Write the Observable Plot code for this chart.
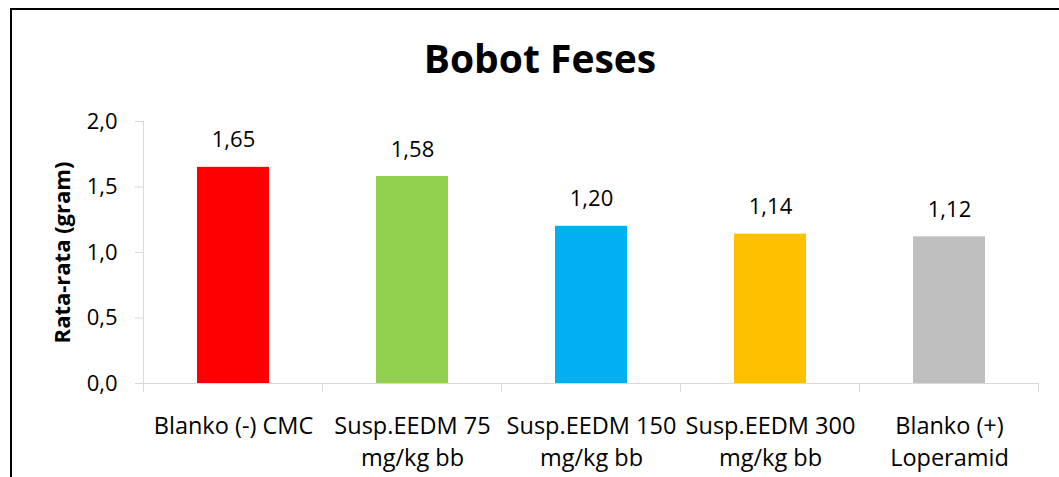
<!DOCTYPE html>
<html><head><meta charset="utf-8">
<script src="https://cdn.jsdelivr.net/npm/d3@7"></script>
<script src="https://cdn.jsdelivr.net/npm/@observablehq/plot@0.6"></script>
<style>
html,body{margin:0;padding:0;background:#fff;}
#wrap{position:relative;width:1059px;height:477px;overflow:hidden;font-family:"Open Sans",sans-serif;background:#fff;}
#frame{position:absolute;left:10px;top:8px;width:1200px;height:600px;border-top:2px solid #000;border-left:2px solid #000;}
#title{position:absolute;left:0;top:38px;width:1080px;text-align:center;font-weight:bold;font-size:39px;line-height:39px;color:#000;}
#chart{position:absolute;left:0;top:0;}
</style></head>
<body>
<div id="wrap"><div id="frame"></div><div id="chart"></div><div id="title"></div></div>
<script>
const title = "Bobot Feses";
const yLabel = "Rata-rata (gram)";
const categories = ["Blanko (-) CMC", "Susp.EEDM 75 mg/kg bb", "Susp.EEDM 150 mg/kg bb", "Susp.EEDM 300 mg/kg bb", "Blanko (+) Loperamid"];
const tickLabels = ["Blanko (-) CMC", "Susp.EEDM 75\nmg/kg bb", "Susp.EEDM 150\nmg/kg bb", "Susp.EEDM 300\nmg/kg bb", "Blanko (+)\nLoperamid"];
const values = [1.65, 1.58, 1.20, 1.14, 1.12];
const colors = ["#FF0000", "#92D050", "#00B0F0", "#FFC000", "#BFBFBF"];
const yTicks = [0, 0.5, 1.0, 1.5, 2.0];

const gridColor = "#d9d9d9";
const data = categories.map((c, i) => ({cat: c, value: values[i], color: colors[i], tick: tickLabels[i]}));
const fmt1 = d => d.toFixed(1).replace(".", ",");
const fmt2 = d => d.toFixed(2).replace(".", ",");

document.getElementById("title").textContent = title;

function categoryTicks(index, scales, vals, dims) {
  const x = scales.x, y = scales.y;
  const step = x.step(), bw = x.bandwidth();
  const half = (step - bw) / 2;
  const xs = categories.map(c => x(c) - half);
  xs.push(x(categories[categories.length - 1]) + bw + half);
  const y0 = y(0), yTop = y(yTicks[yTicks.length - 1]);
  const g = d3.create("svg:g").attr("stroke", gridColor).attr("stroke-width", 1);
  g.selectAll("line.t").data(xs).join("line").attr("class", "t")
    .attr("x1", d => d).attr("x2", d => d).attr("y1", y0).attr("y2", y0 + 9);
  g.append("line").attr("x1", xs[0]).attr("x2", xs[0]).attr("y1", yTop).attr("y2", y0);
  return g.node();
}

const chart = Plot.plot({
  width: 1059,
  height: 477,
  marginLeft: 143,
  marginRight: 21,
  marginTop: 121,
  marginBottom: 94,
  style: {fontFamily: "'Open Sans', sans-serif", fontSize: "22px", color: "#000", background: "transparent"},
  x: {domain: categories, paddingInner: 0.6, paddingOuter: 0.3, axis: null},
  y: {domain: [0, 2], axis: null},
  color: {type: "identity"},
  marks: [
    Plot.ruleY([0], {stroke: gridColor, strokeWidth: 1}),
    Plot.axisY(yTicks, {tickSize: 8, tickPadding: 18, tickFormat: fmt1, stroke: gridColor, fill: "#000", fontSize: 22, label: null}),
    categoryTicks,
    Plot.barY(data, {x: "cat", y: "value", fill: "color"}),
    Plot.text(data, {x: "cat", y: "value", text: d => fmt2(d.value), dy: -27, lineAnchor: "middle", fontSize: 22, fill: "#000"}),
    Plot.text(data, {x: "cat", text: "tick", frameAnchor: "bottom", lineAnchor: "top", dy: 27, fontSize: 23.5, lineHeight: 1.38, fill: "#000"}),
    Plot.text([yLabel], {frameAnchor: "left", rotate: -90, dx: -81, textAnchor: "middle", lineAnchor: "middle", fontWeight: "bold", fontSize: 22, fill: "#000"})
  ]
});
document.getElementById("chart").appendChild(chart);
</script>
</body></html>
